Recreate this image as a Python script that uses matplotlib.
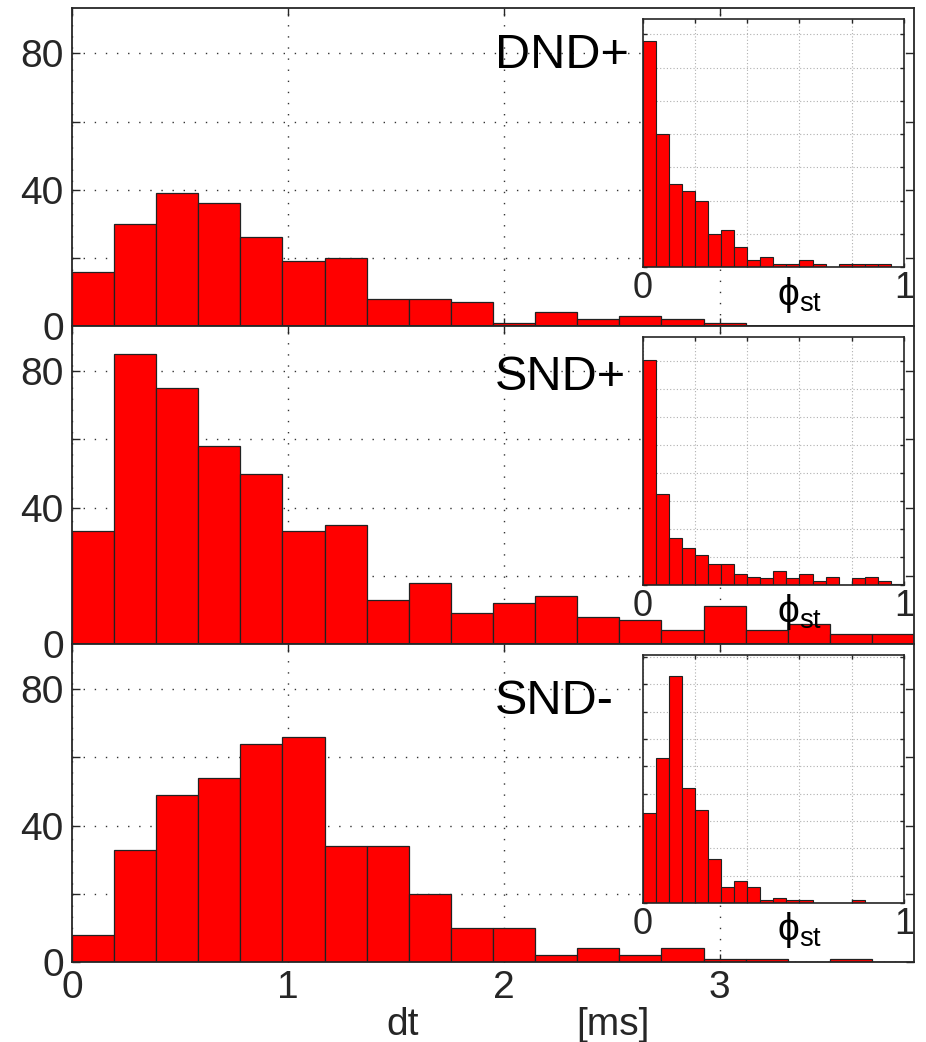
import matplotlib.pyplot as plt
import numpy as np

plt.rcParams['font.family'] = ['Liberation Sans', 'DejaVu Sans']
plt.rcParams['mathtext.fontset'] = 'custom'
plt.rcParams['mathtext.rm'] = 'Liberation Sans'
plt.rcParams['mathtext.it'] = 'Liberation Sans'
plt.rcParams['mathtext.default'] = 'rm'

# bins: 20 bins of dt over [0, 3.9] ms, 20 bins of phi_st over [0, 1]
dt_edges = np.linspace(0, 3.9, 21)
phi_edges = np.linspace(0, 1, 21)

names = ['DND+', 'SND+', 'SND-']

dt_counts = [
   [16, 30, 39, 36, 26, 19, 20, 8, 8, 7, 1, 4, 2, 3, 2, 1, 0, 0, 0, 0],
   [33, 85, 75, 58, 50, 33, 35, 13, 18, 9, 12, 14, 8, 7, 4, 11, 4, 6, 3, 3],
   [8, 33, 49, 54, 64, 66, 34, 34, 20, 10, 10, 2, 4, 2, 4, 1, 1, 0, 1, 0],
]

phi_counts = [
   [68, 40, 25, 23, 20, 10, 11, 6, 2, 3, 1, 1, 2, 1, 0, 1, 1, 1, 1, 0],
   [80.4, 32.4, 16.9, 13.3, 10.8, 7.3, 7.3, 3.8, 2.7, 2.4, 5.0, 2.4, 3.8, 1.4, 2.9, 0, 2.4, 2.9, 1.4, 0.5],
   [33, 53, 83, 42, 34, 16, 6, 8, 6, 1, 2, 1, 1, 0, 0, 0, 1, 0, 0, 0],
]

phi_ymax = [74.7, 88.6, 90.8]
label_y = [75.7, 74.5, 72.7]

fig = plt.figure(figsize=(9.26, 10.42), dpi=100)
bottoms = [0.6871, 0.3820, 0.07678]
axes = []
for k in range(3):
   ax = fig.add_axes([0.07775, bottoms[k], 0.9093, 0.3052])
   axes.append(ax)
   ax.bar(dt_edges[:-1], dt_counts[k], width=np.diff(dt_edges), align='edge',
          color='#ff0000', edgecolor='#222222', linewidth=0.9, zorder=2)
   ax.set_xlim(0, 3.9)
   ax.set_ylim(0, 93.3)
   ax.set_yticks([0, 20, 40, 60, 80])
   ax.set_yticklabels(['0', '', '40', '', '80'])
   ax.set_xticks([0, 1, 2, 3])
   if k < 2:
      ax.set_xticklabels([])
   else:
      ax.set_xticklabels(['0', '1', '2', '3'])
   ax.tick_params(direction='in', length=6, width=1, top=True, right=True,
                  labelsize=28, colors='#262626', pad=6)
   ax.grid(True, linestyle=(0, (1, 7)), linewidth=1.0, color='#333333', zorder=0)
   ax.set_axisbelow(True)
   for s in ax.spines.values():
      s.set_linewidth(1.3)
      s.set_color('#262626')
   ax.text(1.959, label_y[k], names[k], fontsize=35, ha='left', va='baseline', color='black')

   ins = ax.inset_axes([0.678, 0.1855, 0.310, 0.781])
   ins.bar(phi_edges[:-1], phi_counts[k], width=np.diff(phi_edges), align='edge',
           color='#ff0000', edgecolor='#222222', linewidth=0.8, zorder=2)
   ins.set_xlim(0, 1)
   ins.set_ylim(0, phi_ymax[k])
   ins.set_xticks([0, 0.2, 0.4, 0.6, 0.8, 1.0])
   ins.set_xticklabels(['0', '', '', '', '', '1'])
   ins.set_yticks(np.arange(0, phi_ymax[k], 10))
   ins.set_yticklabels([])
   ins.tick_params(direction='in', length=3, width=1, top=True, right=True,
                   labelsize=26, colors='#262626', pad=3)
   ins.grid(True, linestyle=(0, (1, 2)), linewidth=0.8, color='#b0b0b0', zorder=0)
   ins.set_axisbelow(True)
   for s in ins.spines.values():
      s.set_linewidth(1.2)
      s.set_color('#262626')
   ins.text(0.60, -0.03, r'$\phi_{st}$', transform=ins.transAxes, fontsize=28,
            ha='center', va='top', color='black')

ax3 = axes[2]
ax3.text(1.533, -0.2296, 'dt', transform=ax3.get_xaxis_transform(), fontsize=28,
         ha='center', va='baseline', color='#262626')
ax3.text(2.506, -0.2296, '[ms]', transform=ax3.get_xaxis_transform(), fontsize=28,
         ha='center', va='baseline', color='#262626')

plt.savefig('out.png', dpi=100)
